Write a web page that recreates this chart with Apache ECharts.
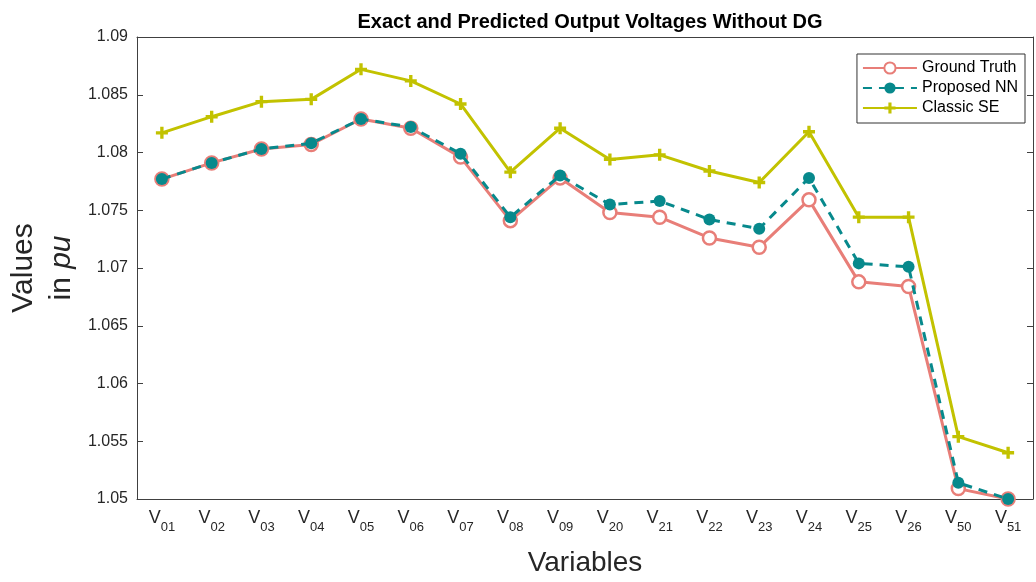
<!DOCTYPE html>
<html>
<head>
<meta charset="utf-8">
<script src="https://cdn.jsdelivr.net/npm/echarts@6/dist/echarts.min.js"></script>
<style>html,body{margin:0;padding:0;background:#fff;overflow:hidden}#c{width:1036px;height:582px}</style>
</head>
<body>
<div id="c"></div>
<script>
var categories = ['01','02','03','04','05','06','07','08','09','20','21','22','23','24','25','26','50','51'];
var groundTruth = [1.0777,1.0791,1.0803,1.0807,1.0829,1.0821,1.0796,1.0741,1.0778,1.0748,1.0744,1.0726,1.0718,1.0759,1.0688,1.0684,1.0509,1.0500];
var proposedNN  = [1.0777,1.0791,1.0803,1.0808,1.0829,1.0822,1.0799,1.0744,1.0780,1.0755,1.0758,1.0742,1.0734,1.0778,1.0704,1.0701,1.0514,1.0500];
var classicSE   = [1.0817,1.0831,1.0844,1.0846,1.0872,1.0862,1.0842,1.0783,1.0821,1.0794,1.0798,1.0784,1.0774,1.0818,1.0744,1.0744,1.0554,1.0540];
var yMin = 1.05, yMax = 1.09, yStep = 0.005;

var font = '"Liberation Sans", Arial, sans-serif';
var narrow = '"Liberation Sans Narrow", "Liberation Sans", Arial, sans-serif';
var axisCol = '#404040', textCol = '#262626';
var plus = 'path://M3.6,0H6.4V10H3.6ZM0,3.6H10V6.4H0Z';

var chart = echarts.init(document.getElementById('c'));
chart.setOption({
  animation: false,
  title: {
    text: 'Exact and Predicted Output Voltages Without DG',
    left: 585, top: 7, textAlign: 'center',
    textStyle: {fontFamily: font, fontSize: 20, fontWeight: 'bold', color: '#000'}
  },
  legend: {
    orient: 'vertical', right: 11, top: 54,
    backgroundColor: '#fff', borderColor: '#333', borderWidth: 1,
    padding: [6, 7, 7, 5], itemGap: 4, itemWidth: 54, itemHeight: 14,
    textStyle: {fontFamily: font, fontSize: 16, color: '#000'},
    data: ['Ground Truth', 'Proposed NN', 'Classic SE']
  },
  grid: {left: 137, right: 3, top: 37, bottom: 79, containLabel: false},
  xAxis: [{
    type: 'category', data: categories, boundaryGap: true,
    name: 'Variables', nameLocation: 'middle', nameGap: 50,
    nameTextStyle: {fontFamily: narrow, fontSize: 28, color: textCol},
    axisLine: {lineStyle: {color: axisCol, width: 1}},
    axisTick: {inside: true, length: 6, alignWithLabel: true, lineStyle: {color: axisCol}},
    axisLabel: {
      margin: 10, interval: 0,
      formatter: function (v) { return '{v|V}{s|' + v + '}'; },
      rich: {
        v: {fontFamily: narrow, fontSize: 18, color: textCol, lineHeight: 18, verticalAlign: 'top'},
        s: {fontFamily: narrow, fontSize: 13, color: textCol, lineHeight: 13, padding: [12, 0, 0, 0], verticalAlign: 'top'}
      }
    },
    splitLine: {show: false}
  }, {
    type: 'category', data: categories, boundaryGap: true, position: 'top',
    axisLine: {lineStyle: {color: axisCol, width: 1}},
    axisTick: {inside: true, length: 6, alignWithLabel: true, lineStyle: {color: axisCol}},
    axisLabel: {show: false}, splitLine: {show: false}
  }],
  yAxis: [{
    type: 'value', min: yMin, max: yMax, interval: yStep,
    name: '{a|Values}\n{a|in }{i|pu}', nameLocation: 'middle', nameRotate: 90, nameGap: 56,
    nameTextStyle: {
      align: 'center',
      rich: {
        a: {fontFamily: font, fontSize: 30, color: textCol, lineHeight: 38},
        i: {fontFamily: font, fontSize: 30, color: textCol, fontStyle: 'italic', lineHeight: 38}
      }
    },
    axisLine: {show: true, lineStyle: {color: axisCol, width: 1}},
    axisTick: {show: true, inside: true, length: 6, lineStyle: {color: axisCol}},
    axisLabel: {
      margin: 9, fontFamily: font, fontSize: 16, color: textCol,
      formatter: function (v) { return String(parseFloat(v.toFixed(3))); }
    },
    splitLine: {show: false}
  }, {
    type: 'value', min: yMin, max: yMax, interval: yStep, position: 'right',
    axisLine: {show: true, lineStyle: {color: axisCol, width: 1}},
    axisTick: {show: true, inside: true, length: 6, lineStyle: {color: axisCol}},
    axisLabel: {show: false}, splitLine: {show: false}
  }],
  series: [{
    name: 'Classic SE', type: 'line', data: classicSE, z: 2,
    symbol: plus, symbolSize: 12, showAllSymbol: true,
    lineStyle: {color: '#C2C200', width: 3},
    itemStyle: {color: '#C2C200'}
  }, {
    name: 'Ground Truth', type: 'line', data: groundTruth, z: 3,
    symbol: 'circle', symbolSize: 13, showAllSymbol: true,
    lineStyle: {color: '#E87E78', width: 3},
    itemStyle: {color: '#fff', borderColor: '#E87E78', borderWidth: 2.5}
  }, {
    name: 'Proposed NN', type: 'line', data: proposedNN, z: 4,
    symbol: 'circle', symbolSize: 12, showAllSymbol: true,
    lineStyle: {color: '#07898C', width: 3, type: [9, 7]},
    itemStyle: {color: '#07898C', borderWidth: 0}
  }]
});
</script>
</body>
</html>
